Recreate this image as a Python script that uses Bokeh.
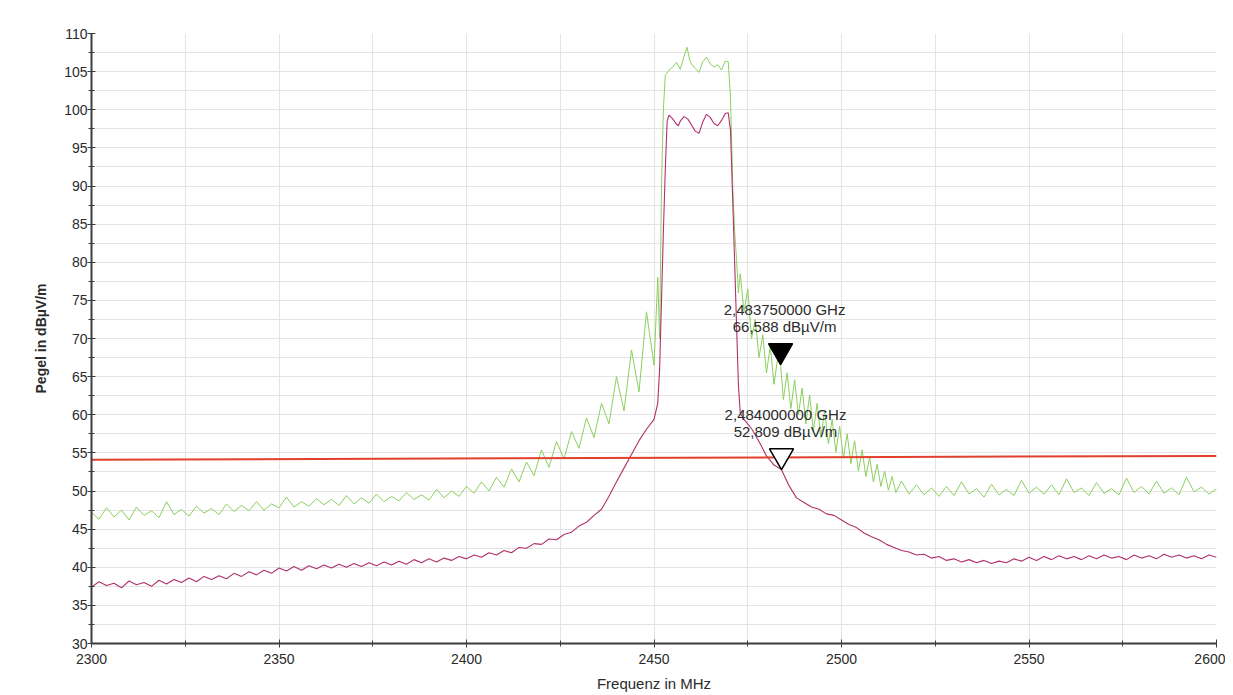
from bokeh.plotting import figure
from bokeh.models import FixedTicker, Range1d
from bokeh.embed import file_html
from bokeh.resources import INLINE
from bokeh.core.properties import value

# ---------------- data ----------------
freq_magenta = [
    2300, 2302, 2304, 2306, 2308, 2310, 2312, 2314, 2316, 2318, 2320, 2322, 2324, 2326, 2328, 2330,
    2332, 2334, 2336, 2338, 2340, 2342, 2344, 2346, 2348, 2350, 2352, 2354, 2356, 2358, 2360, 2362,
    2364, 2366, 2368, 2370, 2372, 2374, 2376, 2378, 2380, 2382, 2384, 2386, 2388, 2390, 2392, 2394,
    2396, 2398, 2400, 2402, 2404, 2406, 2408, 2410, 2412, 2414, 2416, 2418, 2420, 2422, 2424, 2426,
    2428, 2430, 2432, 2434, 2436, 2438, 2440, 2442, 2444, 2446, 2448, 2450,
    2451, 2451.5, 2452, 2452.5, 2453, 2453.5, 2454, 2455, 2456, 2456.5, 2457, 2458, 2459, 2460,
    2461, 2462, 2463, 2464, 2465, 2466, 2467, 2468, 2469, 2469.8, 2470.4, 2471, 2471.5, 2472,
    2472.5, 2473,
    2474, 2476, 2478, 2480, 2482, 2484, 2486, 2488, 2490, 2492, 2494, 2496, 2498, 2500, 2502, 2504,
    2506, 2508, 2510, 2512, 2514, 2516, 2518, 2520, 2522, 2524, 2526, 2528, 2530, 2532, 2534, 2536,
    2538, 2540, 2542, 2544, 2546, 2548, 2550, 2552, 2554, 2556, 2558, 2560, 2562, 2564, 2566, 2568,
    2570, 2572, 2574, 2576, 2578, 2580, 2582, 2584, 2586, 2588, 2590, 2592, 2594, 2596, 2598, 2600,
]
level_magenta = [
    37.4, 38.1, 37.6, 37.9, 37.3, 38.2, 37.7, 38.0, 37.5, 38.3, 37.8, 38.4, 38.0, 38.6, 38.1, 38.8,
    38.4, 38.9, 38.5, 39.2, 38.8, 39.4, 39.0, 39.6, 39.2, 39.9, 39.5, 40.1, 39.6, 40.2, 39.8, 40.3,
    39.9, 40.4, 40.0, 40.5, 40.1, 40.6, 40.2, 40.7, 40.3, 40.8, 40.4, 41.0, 40.6, 41.1, 40.7, 41.2,
    40.9, 41.4, 41.1, 41.6, 41.3, 41.9, 41.6, 42.2, 41.9, 42.6, 42.5, 43.1, 43.0, 43.7, 43.6, 44.3,
    44.6, 45.4, 45.9, 46.8, 47.6, 49.3, 51.2, 53.0, 54.8, 56.6, 58.1, 59.4,
    61.5, 66.0, 75.0, 84.0, 92.0, 98.5, 99.3, 98.8, 98.1, 97.9, 98.5, 99.1, 98.8, 98.0,
    97.2, 96.9, 98.4, 99.4, 99.0, 98.2, 97.9, 98.6, 99.5, 99.6, 97.3, 88.0, 80.0, 72.0,
    64.0, 60.2,
    59.4, 58.2, 56.5, 54.6, 53.4, 52.8, 50.7, 49.1, 48.5, 47.9, 47.6, 47.0, 46.8, 46.2, 45.6, 45.2,
    44.5, 44.0, 43.6, 43.0, 42.6, 42.2, 42.0, 41.6, 41.7, 41.2, 41.4, 40.9, 41.1, 40.7, 41.0, 40.6,
    40.9, 40.5, 40.8, 40.6, 41.1, 40.8, 41.3, 40.9, 41.4, 41.0, 41.5, 41.1, 41.4, 41.0, 41.5, 41.1,
    41.6, 41.2, 41.4, 41.0, 41.6, 41.2, 41.5, 41.1, 41.7, 41.3, 41.6, 41.2, 41.5, 41.1, 41.6, 41.3,
]

freq_green = [
    2300, 2302, 2304, 2306, 2308, 2310, 2312, 2314, 2316, 2318, 2320, 2322, 2324, 2326, 2328, 2330,
    2332, 2334, 2336, 2338, 2340, 2342, 2344, 2346, 2348, 2350, 2352, 2354, 2356, 2358, 2360, 2362,
    2364, 2366, 2368, 2370, 2372, 2374, 2376, 2378, 2380, 2382, 2384, 2386, 2388, 2390, 2392, 2394,
    2396, 2398, 2400, 2402, 2404, 2406, 2408, 2410, 2412, 2414, 2416, 2418, 2420, 2422, 2424, 2426,
    2428, 2430, 2432, 2434, 2436, 2438, 2440, 2442, 2444, 2446, 2448, 2450,
    2451, 2451.5, 2452, 2452.5, 2453, 2454, 2455, 2456, 2457, 2458, 2458.8, 2459.5, 2460, 2461,
    2462, 2463, 2464, 2465, 2466, 2467, 2468, 2469, 2469.8, 2470.4, 2471, 2471.5, 2472, 2472.5,
    2473, 2474, 2475, 2476, 2477, 2478, 2479, 2480, 2481, 2482, 2483, 2483.75,
    2484.5, 2485.5, 2486.5, 2487.5, 2488.5, 2489.5, 2490.5, 2491.5, 2492.5, 2493.5, 2494.5, 2495.5,
    2496.5, 2497.5, 2498.5, 2499.5, 2500.5, 2501.5, 2502.5, 2503.5, 2504.5, 2505.5, 2506.5, 2507.5,
    2508.5, 2509.5, 2510.5, 2511.5, 2512.5, 2513.5, 2514.5,
    2516, 2518, 2520, 2522, 2524, 2526, 2528, 2530, 2532, 2534, 2536, 2538, 2540, 2542, 2544, 2546,
    2548, 2550, 2552, 2554, 2556, 2558, 2560, 2562, 2564, 2566, 2568, 2570, 2572, 2574, 2576, 2578,
    2580, 2582, 2584, 2586, 2588, 2590, 2592, 2594, 2596, 2598, 2600,
]
level_green = [
    47.2, 46.3, 47.8, 46.6, 47.5, 46.2, 47.9, 46.8, 47.4, 46.5, 48.6, 46.9, 47.6, 46.7, 48.0, 47.1,
    47.7, 46.9, 48.3, 47.3, 48.1, 47.4, 48.6, 47.5, 48.3, 47.8, 49.2, 47.9, 48.6, 48.0, 49.0, 48.2,
    48.9, 48.1, 49.4, 48.3, 49.1, 48.4, 49.6, 48.6, 49.3, 48.7, 49.8, 48.9, 49.5, 48.8, 50.2, 49.1,
    50.0, 49.3, 50.6, 49.7, 51.2, 50.0, 51.8, 50.5, 52.9, 51.2, 53.8, 52.0, 55.4, 53.1, 56.5, 54.2,
    57.8, 55.6, 59.6, 57.0, 61.5, 58.8, 65.0, 60.5, 68.5, 63.0, 73.5, 66.5,
    78.0, 70.0, 90.0, 100.0, 104.5, 105.2, 105.6, 106.2, 105.3, 107.0, 108.2, 106.5, 106.0, 105.4,
    104.9, 106.3, 106.9, 106.0, 105.6, 105.9, 105.2, 106.4, 106.3, 101.6, 90.0, 84.0, 80.5, 76.0,
    78.5, 73.5, 76.5, 70.0, 72.5, 67.5, 70.5, 65.5, 69.0, 64.0, 67.5, 66.6,
    62.0, 65.5, 60.8, 64.6, 60.0, 63.5, 58.8, 62.6, 57.8, 61.5, 57.0, 60.6,
    56.2, 59.4, 55.1, 58.5, 54.3, 57.5, 53.6, 56.6, 52.6, 55.4, 51.9, 54.4,
    51.2, 53.5, 50.6, 52.6, 50.1, 51.9, 49.8,
    51.3, 49.6, 50.8, 49.5, 50.4, 49.3, 50.6, 49.4, 51.2, 49.6, 50.3, 49.2, 50.9, 49.5, 50.2, 49.4,
    51.4, 49.7, 50.5, 49.6, 50.8, 49.5, 51.6, 49.8, 50.4, 49.4, 51.1, 49.7, 50.3, 49.5, 51.7, 49.8,
    50.6, 49.6, 51.3, 49.7, 50.4, 49.5, 51.8, 49.9, 50.5, 49.6, 50.3,
]

limit_freq = [2300, 2600]
limit_level = [54.1, 54.6]

marker_freq = [2483.75, 2484.0]
marker_level = [66.588, 52.809]
marker_fill = ["black", "white"]

x_ticks = [2300, 2350, 2400, 2450, 2500, 2550, 2600]
x_minor = [2325, 2375, 2425, 2475, 2525, 2575]
y_ticks = [30, 35, 40, 45, 50, 55, 60, 65, 70, 75, 80, 85, 90, 95, 100, 105, 110]
y_minor = [32.5, 37.5, 42.5, 47.5, 52.5, 57.5, 62.5, 67.5, 72.5, 77.5, 82.5, 87.5,
           92.5, 97.5, 102.5, 107.5]

# ---------------- figure ----------------
FONT = "Liberation Sans"
TXT = "#2b2b2b"

p = figure(width=1225, height=694, output_backend="svg", toolbar_location=None,
           x_range=Range1d(2300, 2600), y_range=Range1d(30, 110),
           min_border_left=91, min_border_right=9, min_border_top=33,
           min_border_bottom=51)
p.outline_line_color = None
p.background_fill_color = "white"
p.border_fill_color = "white"

p.xaxis.ticker = FixedTicker(ticks=x_ticks, minor_ticks=x_minor)
p.yaxis.ticker = FixedTicker(ticks=y_ticks, minor_ticks=y_minor)

for ax in (p.xaxis[0], p.yaxis[0]):
    ax.axis_line_color = "#3c3c3c"
    ax.axis_line_width = 2
    ax.major_tick_line_color = "#3c3c3c"
    ax.minor_tick_line_color = "#3c3c3c"
    ax.major_tick_in = 4
    ax.major_tick_out = 4
    ax.minor_tick_in = 3
    ax.minor_tick_out = 3
    ax.major_label_text_font = FONT
    ax.major_label_text_font_size = "14px"
    ax.major_label_text_color = TXT
    ax.axis_label_text_font = FONT
    ax.axis_label_text_color = TXT
    ax.axis_label_text_font_style = "normal"

p.xaxis.major_label_standoff = 6
p.xaxis.axis_label = "Frequenz in MHz"
p.xaxis.axis_label_text_font_size = "15px"
p.xaxis.axis_label_standoff = 8
p.yaxis.major_label_standoff = 0
p.yaxis.axis_label = "Pegel in dBµV/m"
p.yaxis.axis_label_text_font_size = "14px"
p.yaxis.axis_label_text_font_style = "bold"
p.yaxis.axis_label_standoff = 12

p.xgrid.grid_line_color = "#e4e4e4"
p.xgrid.minor_grid_line_color = "#e4e4e4"
p.ygrid.grid_line_color = "#e4e4e4"
p.ygrid.minor_grid_line_color = "#e4e4e4"

# traces
p.line(freq_green, level_green, line_color="#8ccf5e", line_width=1)
p.line(freq_magenta, level_magenta, line_color="#b0306c", line_width=1.1)
p.line(limit_freq, limit_level, line_color="#e0402c", line_width=2)

# markers: tip of the triangle sits on the measured point
px_per_db = (643 - 33) / (110 - 30)
tri_size = 24
tip_px = tri_size * 0.5 * 3 ** 0.5 * 2 / 3
marker_center = [v + tip_px / px_per_db for v in marker_level]
p.scatter(marker_freq, marker_center, marker="inverted_triangle", size=tri_size,
          fill_color=marker_fill, line_color="black", line_width=1.5)

ghz_text = [f"{f / 1000:.9f}".replace(".", ",") + " GHz" for f in marker_freq]
lvl_text = [f"{v:.3f}".replace(".", ",") + " dBµV/m" for v in marker_level]
p.text(marker_freq, marker_level, text=ghz_text, x_offset=4, y_offset=-55,
       text_align="center", text_baseline="middle", text_font=value(FONT),
       text_font_size="15px", text_color=TXT)
p.text(marker_freq, marker_level, text=lvl_text, x_offset=4, y_offset=-38,
       text_align="center", text_baseline="middle", text_font=value(FONT),
       text_font_size="15px", text_color=TXT)

open("out.html", "w").write(file_html(p, INLINE))
